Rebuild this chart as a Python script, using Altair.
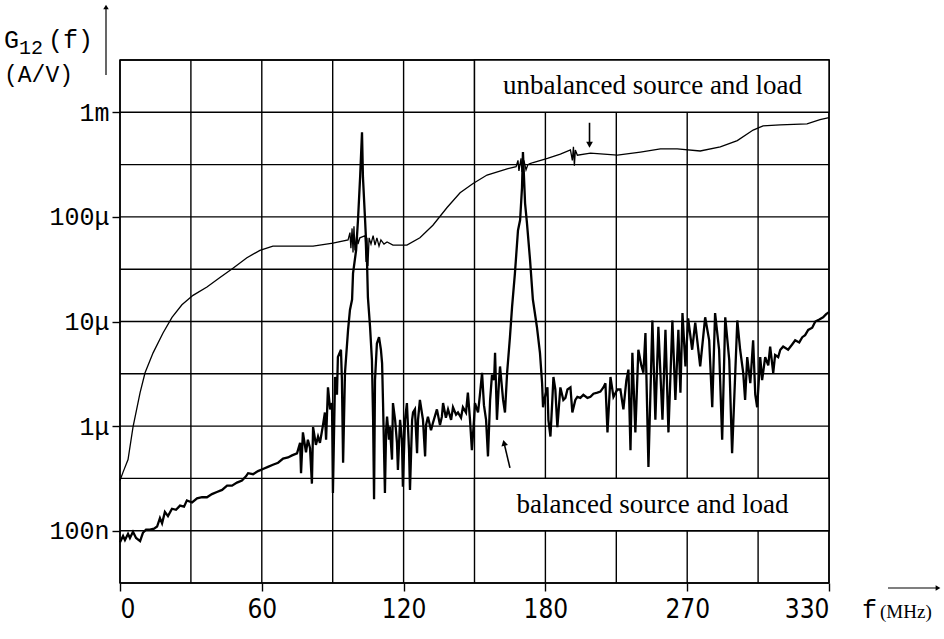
import math
import altair as alt
import pandas as pd

W, H = 709, 523

# unbalanced source and load: (f in MHz, log10 G12 in A/V)
unbalanced = [
    (0, -6.52), (1.3, -6.44), (3.4, -6.32), (5.5, -6.01), (8.5, -5.68), (10.6, -5.49),
    (14.0, -5.30), (18.2, -5.11), (22.0, -4.96), (26.2, -4.84), (30.9, -4.75), (36.8, -4.67),
    (42.3, -4.58), (47.8, -4.49), (53.7, -4.39), (59.2, -4.32), (64.7, -4.28), (69.0, -4.28),
    (76.2, -4.28), (81.7, -4.28), (90.1, -4.25), (96.5, -4.22), (97.3, -4.15), (97.7, -4.30),
    (98.2, -4.11), (98.6, -4.34), (99.0, -4.09), (99.4, -4.32), (100.3, -4.15), (100.7, -4.26),
    (101.5, -4.20), (103.7, -4.18), (104.1, -4.43), (104.5, -4.20), (104.9, -4.47), (105.4, -4.20),
    (106.2, -4.26), (107.1, -4.18), (107.9, -4.27), (108.7, -4.20), (109.6, -4.28), (110.4, -4.22),
    (111.7, -4.26), (113.0, -4.24), (115.5, -4.27), (121.4, -4.27), (126.9, -4.20), (132.4, -4.08),
    (138.4, -3.91), (143.9, -3.77), (149.4, -3.68), (155.3, -3.60), (163.8, -3.54), (167.6, -3.52),
    (168.4, -3.46), (168.8, -3.56), (169.7, -3.44), (170.1, -3.57), (170.9, -3.46), (171.8, -3.55),
    (172.6, -3.50), (173.5, -3.49), (174.8, -3.48), (181.3, -3.44), (189.5, -3.40), (195.9, -3.36),
    (197.1, -3.46), (197.8, -3.33), (198.4, -3.51), (199.0, -3.36), (200.3, -3.41), (208.6, -3.39),
    (225.7, -3.41), (240.3, -3.38), (253.0, -3.35), (263.7, -3.35), (275.5, -3.37), (284.0, -3.33),
    (291.2, -3.27), (297.9, -3.17), (302.1, -3.13), (309.3, -3.12), (320.7, -3.11), (326.2, -3.07),
    (330.0, -3.05),
]

# balanced source and load: (f in MHz, log10 G12 in A/V)
balanced = [
    (0, -7.11), (1.3, -7.05), (2.1, -7.09), (3.4, -7.03), (4.2, -7.07), (5.5, -7.01), (6.8, -7.07),
    (8.5, -7.10), (9.7, -7.02), (11.0, -6.99), (12.7, -6.99), (14.4, -6.98), (15.7, -6.96),
    (16.9, -6.88), (17.8, -6.93), (19.0, -6.82), (20.3, -6.86), (22.0, -6.79), (23.7, -6.80),
    (25.4, -6.76), (27.1, -6.77), (28.3, -6.71), (30.5, -6.73), (32.6, -6.69), (34.7, -6.68),
    (36.8, -6.68), (38.9, -6.65), (41.0, -6.63), (43.2, -6.61), (45.3, -6.57), (47.4, -6.57),
    (49.5, -6.54), (51.6, -6.52), (53.3, -6.48), (54.2, -6.45), (56.3, -6.46), (58.4, -6.43),
    (60.5, -6.41), (62.6, -6.39), (64.7, -6.37), (66.9, -6.35), (69.0, -6.31), (71.1, -6.30),
    (72.8, -6.28), (74.9, -6.26), (76.2, -6.16), (76.6, -6.45), (77.4, -6.06), (78.7, -6.25),
    (79.5, -6.13), (80.4, -6.21), (81.2, -6.55), (81.7, -6.01), (82.9, -6.18), (83.8, -6.10),
    (84.6, -6.16), (85.9, -5.99), (86.7, -5.87), (87.2, -6.13), (88.0, -5.63), (88.9, -5.84),
    (89.7, -5.78), (90.1, -6.64), (91.0, -5.53), (91.8, -5.70), (92.2, -5.34), (93.5, -5.27),
    (93.9, -5.56), (94.4, -6.35), (95.2, -5.49), (96.5, -5.08), (97.3, -4.89), (98.2, -4.79),
    (98.6, -4.54), (99.9, -4.32), (100.7, -4.03), (101.6, -3.62), (102.4, -3.19), (102.8, -3.62),
    (103.7, -4.03), (104.5, -4.41), (104.9, -4.77), (105.8, -5.05), (106.6, -5.37), (107.1, -5.94),
    (107.5, -6.70), (107.9, -5.56), (108.7, -5.21), (109.6, -5.15), (110.4, -5.27), (110.9, -5.40),
    (111.3, -5.78), (112.1, -6.64), (112.6, -6.04), (113.0, -5.91), (113.8, -6.13), (114.2, -6.01),
    (115.1, -6.32), (115.5, -5.78), (116.4, -5.94), (117.2, -6.16), (117.6, -6.42), (118.5, -5.94),
    (119.3, -6.13), (119.7, -6.58), (120.6, -5.94), (121.4, -5.78), (122.3, -6.23), (122.7, -6.61),
    (123.6, -5.94), (124.0, -5.87), (124.8, -5.84), (125.7, -6.26), (126.1, -5.94), (126.9, -5.75),
    (128.2, -5.94), (129.1, -6.29), (129.5, -5.99), (130.3, -5.91), (131.6, -6.04), (132.4, -5.97),
    (134.1, -5.84), (135.4, -5.99), (136.2, -5.91), (136.7, -5.78), (137.9, -5.92), (138.8, -5.84),
    (140.1, -5.94), (140.9, -5.82), (142.2, -5.89), (143.0, -5.87), (144.3, -5.92), (145.1, -5.82),
    (146.4, -5.87), (147.2, -5.68), (148.1, -5.94), (148.9, -6.23), (149.8, -5.94), (150.2, -5.78),
    (151.5, -5.87), (152.3, -5.70), (153.2, -5.49), (154.0, -5.80), (154.9, -5.94), (155.7, -6.29),
    (156.6, -5.75), (157.4, -5.51), (158.3, -5.56), (158.7, -5.30), (159.5, -5.94), (160.4, -5.56),
    (160.8, -5.43), (162.1, -5.75), (162.9, -5.87), (163.8, -5.49), (165.0, -5.15), (165.9, -4.86),
    (167.1, -4.54), (168.4, -4.13), (169.3, -4.03), (170.1, -3.72), (170.5, -3.38), (171.4, -3.87),
    (172.2, -4.06), (173.5, -4.41), (174.7, -4.79), (176.4, -5.05), (177.7, -5.30), (178.6, -5.59),
    (179.0, -5.82), (180.0, -5.70), (181.3, -5.63), (181.9, -5.94), (183.2, -6.10), (184.4, -5.75),
    (185.1, -5.53), (186.3, -5.65), (187.6, -6.01), (189.5, -5.63), (191.4, -5.75), (192.7, -5.73),
    (194.0, -5.65), (195.9, -5.63), (197.1, -5.87), (199.0, -5.75), (200.3, -5.72), (202.2, -5.73),
    (204.1, -5.70), (206.7, -5.73), (208.6, -5.72), (210.5, -5.69), (213.0, -5.68), (214.9, -5.67),
    (216.8, -5.63), (218.1, -5.59), (219.4, -6.06), (221.3, -5.53), (223.2, -5.72), (225.7, -5.65),
    (227.6, -5.65), (229.5, -5.84), (231.4, -5.56), (232.7, -5.46), (234.0, -6.23), (235.2, -5.30),
    (237.1, -6.06), (239.0, -5.27), (240.9, -5.42), (242.2, -5.49), (243.5, -5.11), (245.4, -6.39),
    (247.9, -4.99), (249.8, -5.94), (251.7, -5.05), (254.3, -5.94), (256.2, -5.08), (258.1, -6.06),
    (260.6, -4.99), (262.5, -5.75), (264.4, -5.08), (265.7, -5.68), (267.0, -4.92), (268.9, -5.43),
    (270.4, -4.97), (272.1, -5.27), (273.4, -5.01), (275.5, -5.43), (277.6, -4.96), (279.3, -5.18),
    (280.6, -5.82), (281.8, -4.92), (283.5, -5.27), (284.8, -6.13), (286.1, -4.96), (287.8, -5.37),
    (289.0, -6.26), (291.2, -4.99), (292.4, -5.27), (293.7, -5.49), (294.5, -5.75), (295.4, -5.34),
    (296.7, -5.59), (297.9, -5.18), (298.8, -5.70), (299.6, -5.82), (300.9, -5.34), (301.7, -5.56),
    (303.0, -5.34), (304.3, -5.42), (305.1, -5.24), (306.4, -5.49), (307.2, -5.32), (308.5, -5.34),
    (309.4, -5.27), (310.6, -5.24), (312.7, -5.27), (314.4, -5.22), (315.7, -5.18), (317.4, -5.20),
    (318.7, -5.15), (319.9, -5.13), (321.2, -5.08), (322.9, -5.06), (324.2, -5.00), (325.9, -4.98),
    (327.5, -4.96), (328.8, -4.93), (330.0, -4.91),
]

x_grid = [0, 30, 60, 90, 120, 150, 180, 225, 270, 300, 330]
y_grid_exp = [-7.5, -7.0, -6.5, -6.0, -5.5, -5.0, -4.5, -4.0, -3.5, -3.0, -2.5]
x_ticks = [0, 60, 120, 180, 270, 330]
y_ticks = [1e-7, 1e-6, 1e-5, 1e-4, 1e-3]
y_tick_labels = ["100n", "1\u03bc", "10\u03bc", "100\u03bc", "1m"]

df_u = pd.DataFrame(unbalanced, columns=["f", "e"])
df_u["G"] = 10 ** df_u["e"]
df_b = pd.DataFrame(balanced, columns=["f", "e"])
df_b["G"] = 10 ** df_b["e"]
df_xg = pd.DataFrame({"f": x_grid})
df_yg = pd.DataFrame({"G": [10 ** e for e in y_grid_exp]})

xs = alt.Scale(domain=[0, 180, 270, 330], range=[0, W * 0.6, W * 0.8, W], nice=False, zero=False)
ys = alt.Scale(type="log", domain=[10 ** -7.5, 10 ** -2.5], nice=False)

expr = "''"
for v, lab in reversed(list(zip(y_ticks, y_tick_labels))):
    expr = f"(abs(log(datum.value)/LN10 - ({math.log10(v)})) < 0.01) ? '{lab}' : " + expr

mono = "Liberation Mono, Courier New, monospace"
narrow = "Liberation Sans Narrow, DejaVu Sans Condensed, Arial Narrow, sans-serif"
serif = "Liberation Serif, Times New Roman, serif"

x_axis = alt.Axis(
    values=x_ticks, title=None, grid=False, domain=False, format="d",
    tickColor="black", tickSize=8, tickWidth=1.4,
    labelFont=narrow, labelFontSize=26, labelColor="black", labelPadding=5)
y_axis = alt.Axis(
    values=y_ticks, title=None, grid=False, domain=False, labelExpr=expr,
    tickColor="black", tickSize=8, tickWidth=1.4,
    labelFont=mono, labelFontSize=25, labelColor="black", labelPadding=3)

X = lambda f="f": alt.X(f"{f}:Q", scale=xs, axis=x_axis)
Y = lambda g="G": alt.Y(f"{g}:Q", scale=ys, axis=y_axis)

xgrid = alt.Chart(df_xg).mark_rule(color="black", strokeWidth=1.4).encode(x=X())
ygrid = alt.Chart(df_yg).mark_rule(color="black", strokeWidth=1.4).encode(y=Y())

line_u = alt.Chart(df_u).mark_line(color="black", strokeWidth=1.3).encode(
    x=X(), y=Y(), order="f:Q")
line_b = alt.Chart(df_b).mark_line(color="black", strokeWidth=2.3).encode(
    x=X(), y=Y(), order="f:Q")

boxes = pd.DataFrame({
    "f": [150, 150], "f2": [330, 330],
    "G": [1e-3, 1e-7], "G2": [10 ** -2.5, 10 ** -6.5],
})
box = alt.Chart(boxes).mark_rect(fill="white", stroke="black", strokeWidth=1.4).encode(
    x=X(), x2="f2", y=Y(), y2="G2")

labels = pd.DataFrame({
    "f": [248, 248], "G": [10 ** -2.75, 10 ** -6.75],
    "t": ["unbalanced source and load", "balanced source and load"],
})
box_text = alt.Chart(labels).mark_text(font=serif, fontSize=27, color="black",
                                       align="center", baseline="middle").encode(
    x=X(), y=Y(), text="t:N")

arrows = pd.DataFrame({
    "f": [208.0, 165.0], "G": [10 ** -3.10, 10 ** -6.40],
    "f2": [208.0, 162.6], "G2": [10 ** -3.30, 10 ** -6.17],
})
arrow_shaft = alt.Chart(arrows).mark_rule(color="black", strokeWidth=1.6).encode(
    x=X(), x2="f2", y=Y(), y2="G2")
heads = pd.DataFrame({"f": [208.0, 162.5], "G": [10 ** -3.31, 10 ** -6.16], "a": [180, 347]})
arrow_head = alt.Chart(heads).mark_point(shape="triangle-up", filled=True, color="black",
                                         opacity=1, size=45).encode(
    x=X(), y=Y(), angle=alt.Angle("a:Q", scale=None))

one = pd.DataFrame({"k": [0]})


def txt(s, x, y, size, font=mono, align="left"):
    return alt.Chart(one).mark_text(text=s, font=font, fontSize=size, color="black",
                                    align=align, baseline="alphabetic").encode(
        x=alt.value(x), y=alt.value(y))


t_g = txt("G", -116, -12, 25)
t_sub = txt("12", -101, -6, 20)
t_f = txt("(f)", -72, -12, 25)
t_unit = txt("(A/V)", -116, 22, 23)
y_arrow = alt.Chart(one).mark_rule(color="black", strokeWidth=1.2).encode(
    x=alt.value(-14), y=alt.value(-52), y2=alt.value(15))
y_head = alt.Chart(one).mark_point(shape="triangle-up", filled=True, color="black",
                                   opacity=1, size=30).encode(x=alt.value(-14), y=alt.value(-53))

t_xf = txt("f", 742, 558, 25)
t_xu = txt("(MHz)", 760, 558, 19, font=serif)
x_arrow = alt.Chart(one).mark_rule(color="black", strokeWidth=1.2).encode(
    x=alt.value(768), x2=alt.value(818), y=alt.value(528))
x_head = alt.Chart(one).mark_point(shape="triangle-right", filled=True, color="black",
                                   opacity=1, size=30).encode(x=alt.value(818), y=alt.value(528))

chart = alt.layer(
    xgrid, ygrid, line_u, line_b, box, box_text, arrow_shaft, arrow_head,
    t_g, t_sub, t_f, t_unit, y_arrow, y_head, t_xf, t_xu, x_arrow, x_head,
).properties(
    width=W, height=H,
    autosize=alt.AutoSizeParams(type="none"),
    padding={"left": 120, "top": 60, "right": 115, "bottom": 56},
    background="white",
).configure_view(stroke="black", strokeWidth=1.5)

chart.save("out.html", embed_options={"renderer": "svg", "actions": False})
